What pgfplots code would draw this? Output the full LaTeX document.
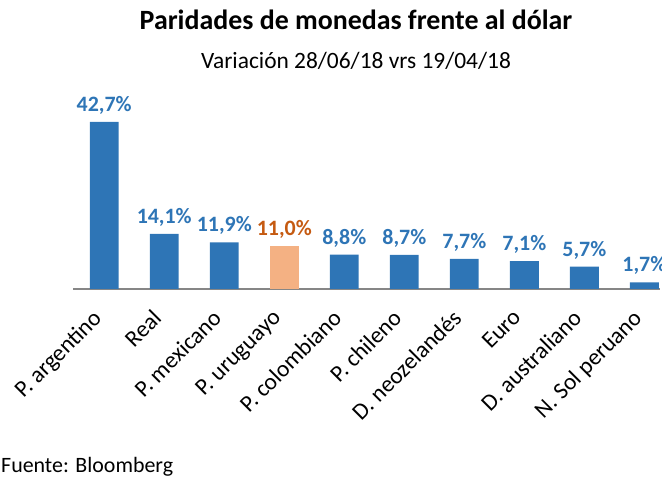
\documentclass[border=0pt]{standalone}
\usepackage{fontspec}
\setmainfont{Carlito}
\usepackage{pgfplots}
\pgfplotsset{compat=1.18}
\definecolor{barBlue}{RGB}{46,117,182}
\definecolor{barOrange}{RGB}{244,177,131}
\definecolor{labOrange}{RGB}{197,90,17}
\definecolor{axisGrey}{RGB}{134,134,134}

\begin{document}
\begin{tikzpicture}[x=1bp,y=1bp]
\useasboundingbox (0,0) rectangle (662,477);
\begin{axis}[
  at={(73bp,188bp)}, anchor=south west,
  scale only axis, width=587bp, height=209bp,
  xmin=-0.52, xmax=9.26, ymin=0, ymax=53.4,
  axis x line=bottom, axis y line=none,
  x axis line style={axisGrey, line width=1.5bp, -},
  xtick={0,...,9}, major tick length=0pt,
  xticklabels={P. argentino, Real, P. mexicano, P. uruguayo, P. colombiano,
    P. chileno, D. neozelandés, Euro, D. australiano, N. Sol peruano},
  xticklabel style={xshift=-13bp, yshift=-19bp, rotate=45, anchor=north east,
    inner sep=0pt, font=\fontsize{23.5}{27}\selectfont},
  ybar, bar width=0.48, bar shift=0pt,
  nodes near coords={\pgfmathprintnumber[fixed,fixed zerofill,precision=1,use comma,assume math mode=true]{\pgfplotspointmeta}\%},
  nodes near coords style={font=\bfseries\fontsize{22}{26}\selectfont, anchor=south, yshift=4bp},
  clip=false,
]
\addplot[fill=barBlue, draw=none, nodes near coords style={text=barBlue}]
  coordinates {(0,42.7) (1,14.1) (2,11.9) (4,8.8) (5,8.7) (6,7.7) (7,7.1) (8,5.7) (9,1.7)};
\addplot[fill=barOrange, draw=none, nodes near coords style={text=labOrange}]
  coordinates {(3,11.0)};
\end{axis}
\node[font=\bfseries\fontsize{28}{32}\selectfont, anchor=base, inner sep=0pt] at (356,447) {Paridades de monedas frente al dólar};
\node[font=\fontsize{23.5}{27}\selectfont, anchor=base, inner sep=0pt] at (356,408) {Variación 28/06/18 vrs 19/04/18};
\node[font=\fontsize{22}{26}\selectfont, anchor=base west, inner sep=0pt] at (1,4) {Fuente: Bloomberg};
\end{tikzpicture}
\end{document}
